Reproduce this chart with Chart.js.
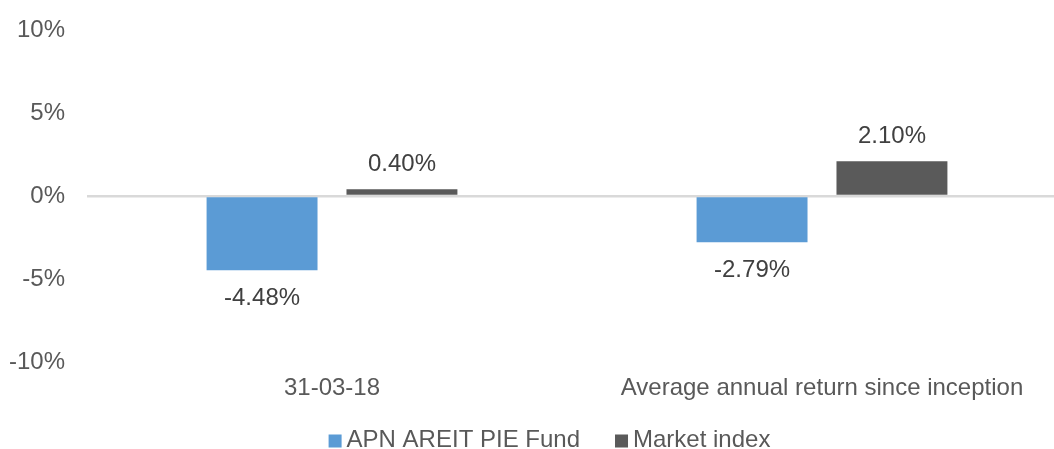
<!DOCTYPE html>
<html>
<head>
<meta charset="utf-8">
<script src="https://cdn.jsdelivr.net/npm/chart.js@4/dist/chart.umd.min.js"></script>
<style>
  html, body { margin: 0; padding: 0; background: #ffffff; overflow: hidden; }
  #wrap { width: 1070px; height: 449px; position: relative; }
</style>
</head>
<body>
<div id="wrap"><canvas id="c"></canvas></div>
<script>
const categories = ["31-03-18", "Average annual return since inception"];
const seriesNames = ["APN AREIT PIE Fund", "Market index"];
const fundValues = [-4.48, -2.79];
const marketValues = [0.40, 2.10];
const yTicks = [-10, -5, 0, 5, 10];

const FONT = "'Liberation Sans', Arial, sans-serif";

const dataLabels = {
  id: 'dataLabels',
  afterDatasetsDraw(chart) {
    const ctx = chart.ctx;
    ctx.save();
    ctx.font = "24px " + FONT;
    ctx.fillStyle = '#404040';
    ctx.textAlign = 'center';
    ctx.textBaseline = 'alphabetic';
    chart.data.datasets.forEach((ds, i) => {
      const meta = chart.getDatasetMeta(i);
      meta.data.forEach((el, j) => {
        const v = ds.data[j];
        const y = v >= 0 ? el.y - 18 : el.y + 35;
        ctx.fillText(v.toFixed(2) + '%', el.x, y);
      });
    });
    ctx.restore();
  }
};

// Custom legend: square swatch + label, centered under the chart
const bottomLegend = {
  id: 'bottomLegend',
  afterDraw(chart) {
    const ctx = chart.ctx;
    ctx.save();
    ctx.font = "24px " + FONT;
    ctx.textBaseline = 'alphabetic';
    ctx.textAlign = 'left';
    const box = 13, gapBox = 5, gapItem = 35;
    const items = chart.data.datasets.map(ds => ({
      text: ds.label, color: ds.backgroundColor,
      w: box + gapBox + ctx.measureText(ds.label).width
    }));
    const total = items.reduce((s, it) => s + it.w, 0) + gapItem * (items.length - 1);
    let x = 549.5 - total / 2;
    const baseline = 447;
    items.forEach(it => {
      ctx.fillStyle = it.color;
      ctx.fillRect(x, baseline - box + 0.5, box, box);
      ctx.fillStyle = '#595959';
      ctx.fillText(it.text, x + box + gapBox, baseline);
      x += it.w + gapItem;
    });
    ctx.restore();
  }
};

new Chart(document.getElementById('c'), {
  type: 'bar',
  data: {
    labels: categories,
    datasets: [
      { label: seriesNames[0], data: fundValues, backgroundColor: '#5B9BD5',
        categoryPercentage: 0.571, barPercentage: 0.793 },
      { label: seriesNames[1], data: marketValues, backgroundColor: '#5A5A5A',
        categoryPercentage: 0.571, barPercentage: 0.793 }
    ]
  },
  options: {
    responsive: true,
    maintainAspectRatio: false,
    animation: false,
    layout: { padding: { left: 0, right: 3, top: 30, bottom: 0 } },
    plugins: {
      tooltip: { enabled: false },
      legend: { display: false }
    },
    scales: {
      x: {
        grid: { display: false },
        border: { display: false },
        afterFit(scale) { scale.height = 87; },
        ticks: { font: { family: FONT, size: 24 }, color: '#595959', padding: 4, maxRotation: 0 }
      },
      y: {
        z: 1,
        min: -10,
        max: 10,
        afterBuildTicks(scale) { scale.ticks = yTicks.map(v => ({ value: v })); },
        afterFit(scale) { scale.width = 87; scale.paddingTop = 0; scale.paddingBottom = 0; },
        grid: {
          drawTicks: false,
          lineWidth: 2.5,
          color: (c) => (c.tick && c.tick.value === 0) ? '#D9D9D9' : 'rgba(0,0,0,0)'
        },
        border: { display: false },
        ticks: {
          font: { family: FONT, size: 24 },
          color: '#595959',
          padding: 22,
          callback: (v) => v + '%'
        }
      }
    }
  },
  plugins: [dataLabels, bottomLegend]
});
</script>
</body>
</html>
